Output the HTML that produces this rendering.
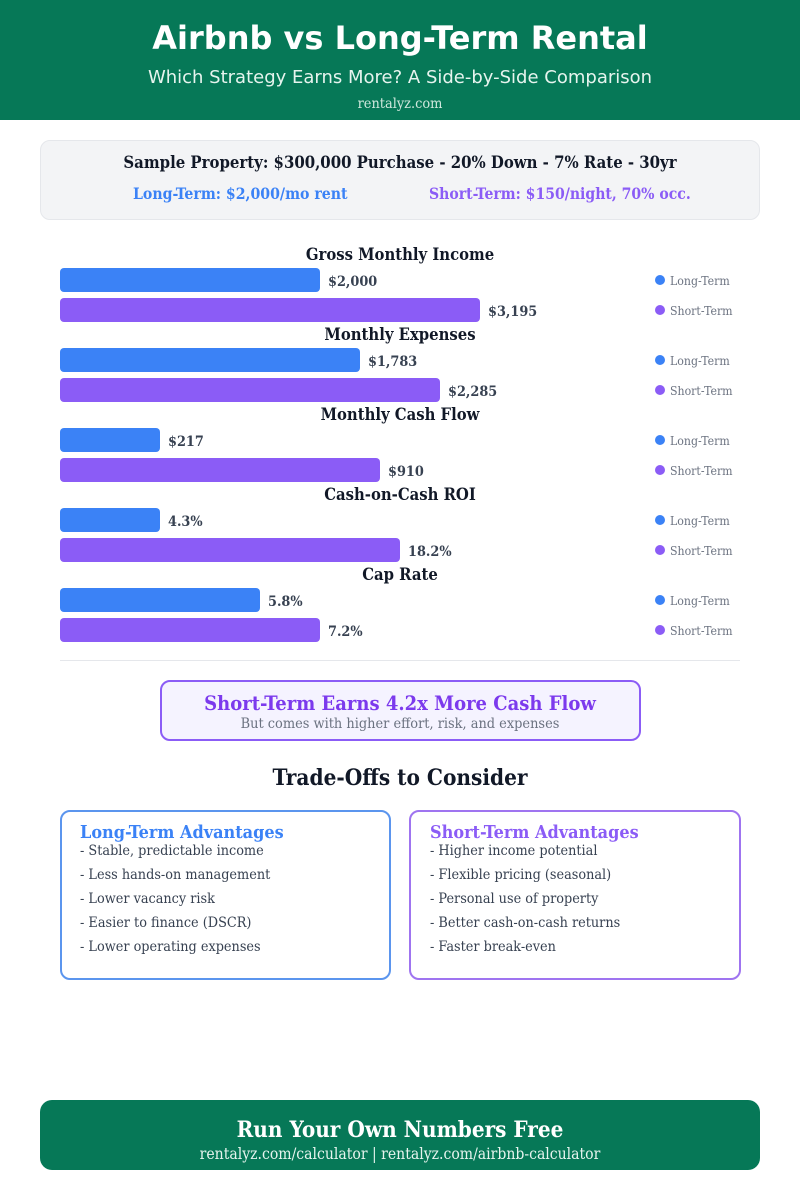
<!DOCTYPE html>
<html><head><meta charset="utf-8"><style>
body{margin:0;width:800px;height:1200px;background:#fff;position:relative;overflow:hidden;font-family:"DejaVu Serif Condensed","DejaVu Serif","Liberation Serif",serif;font-stretch:condensed}
.a{position:absolute}
.c{text-align:center;left:0;width:800px}
.sans{font-family:"DejaVu Sans","Liberation Sans",sans-serif;font-stretch:normal}
ul{list-style:none;margin:0;padding:0}
.box li{font-size:14.3px;color:#374151;height:24px}
</style></head><body>
<div class="a" style="left:0;top:0;width:800px;height:120px;background:#067857"></div>
<div class="a c sans" style="top:19px;font-size:32px;font-weight:bold;color:#fff">Airbnb vs Long-Term Rental</div>
<div class="a c sans" style="top:67px;font-size:18px;color:#e6f4ee">Which Strategy Earns More? A Side-by-Side Comparison</div>
<div class="a c" style="top:96px;font-size:14.4px;color:#cfe8dd">rentalyz.com</div>

<div class="a" style="left:40px;top:140px;width:718px;height:78px;background:#f3f4f6;border:1px solid #e5e7eb;border-radius:10px"></div>
<div class="a c" style="top:152px;font-size:16.6px;font-weight:bold;color:#111827">Sample Property: $300,000 Purchase - 20% Down - 7% Rate - 30yr</div>
<div class="a" style="left:133px;top:184px;font-size:15.7px;font-weight:bold;color:#3b82f6">Long-Term: $2,000/mo rent</div>
<div class="a" style="left:429px;top:184px;font-size:15.6px;font-weight:bold;color:#8b5cf6">Short-Term: $150/night, 70% occ.</div>

<svg class="a" id="chart" style="left:0;top:0" width="800" height="670"></svg>

<div class="a" style="left:160px;top:680px;width:477px;height:57px;border:2px solid #8b5cf6;background:#f5f3ff;border-radius:10px"></div>
<div class="a c" style="top:691px;font-size:20px;font-weight:bold;color:#7c3aed">Short-Term Earns 4.2x More Cash Flow</div>
<div class="a c" style="top:716px;font-size:14.4px;color:#6b7280">But comes with higher effort, risk, and expenses</div>

<div class="a c" style="top:765px;font-size:22.4px;font-weight:bold;color:#111827">Trade-Offs to Consider</div>
<div class="a box" style="left:60px;top:810px;width:331px;height:170px;border:2px solid #5b95ee;border-radius:10px;box-sizing:border-box;padding:10px 0 0 18px">
<div style="font-size:17.9px;font-weight:bold;color:#3b82f6;margin-bottom:0px">Long-Term Advantages</div>
<ul><li>- Stable, predictable income</li><li>- Less hands-on management</li><li>- Lower vacancy risk</li><li>- Easier to finance (DSCR)</li><li>- Lower operating expenses</li></ul></div>
<div class="a box" style="left:409px;top:810px;width:332px;height:170px;border:2px solid #9f74f0;border-radius:10px;box-sizing:border-box;padding:10px 0 0 19px">
<div style="font-size:17.9px;font-weight:bold;color:#8b5cf6;margin-bottom:0px">Short-Term Advantages</div>
<ul><li>- Higher income potential</li><li>- Flexible pricing (seasonal)</li><li>- Personal use of property</li><li>- Better cash-on-cash returns</li><li>- Faster break-even</li></ul></div>

<div class="a" style="left:40px;top:1100px;width:720px;height:70px;background:#067857;border-radius:12px"></div>
<div class="a c" style="top:1117px;font-size:22.3px;font-weight:bold;color:#fff">Run Your Own Numbers Free</div>
<div class="a c" style="top:1145px;font-size:15.6px;color:#e6f4ee">rentalyz.com/calculator | rentalyz.com/airbnb-calculator</div>

<script>
const metrics = ["Gross Monthly Income","Monthly Expenses","Monthly Cash Flow","Cash-on-Cash ROI","Cap Rate"];
const longTerm = [2000,1783,217,4.3,5.8];
const shortTerm = [3195,2285,910,18.2,7.2];
const valueLabelsLT = ["$2,000","$1,783","$217","4.3%","5.8%"];
const valueLabelsST = ["$3,195","$2,285","$910","18.2%","7.2%"];
const seriesNames = ["Long-Term","Short-Term"];

const NS="http://www.w3.org/2000/svg", svg=document.getElementById('chart');
const groupFull=[420,380,320,340,260], x0=60, top0=255, gap=80;
function mk(t,a){const e=document.createElementNS(NS,t);for(const k in a)e.setAttribute(k,a[k]);svg.appendChild(e);return e;}
function wScale(g,v){const m=Math.max(longTerm[g],shortTerm[g]);return Math.max(100,Math.round(v/m*groupFull[g]/20)*20);}
const colors=["#3b82f6","#8b5cf6"];
metrics.forEach((m,g)=>{
  const y=top0+g*gap;
  const t=mk('text',{x:400,y:y+5,'text-anchor':'middle','font-size':16.5,'font-weight':'bold',fill:'#111827'});
  t.textContent=m;
  
  
  [longTerm[g],shortTerm[g]].forEach((v,s)=>{
    const by=y+13+s*30, w=wScale(g,v);
    const r=mk('rect',{x:x0,y:by,width:w,height:24,rx:4,fill:colors[s]});
    
    
    const l=mk('text',{x:x0+w+8,y:by+18,'font-size':14.3,'font-weight':'bold',fill:'#374151'});
    l.textContent=(s?valueLabelsST:valueLabelsLT)[g];
    
    
    const d=mk('circle',{cx:660,cy:by+12,r:5,fill:colors[s]});
    
    
    const lt=mk('text',{x:670,y:by+17,'font-size':12.2,fill:'#6b7280'});
    lt.textContent=seriesNames[s];
    
    
  });
});
const dv=mk('line',{x1:60,x2:740,y1:660.5,y2:660.5,stroke:'#e5e7eb'});


</script>
</body></html>
